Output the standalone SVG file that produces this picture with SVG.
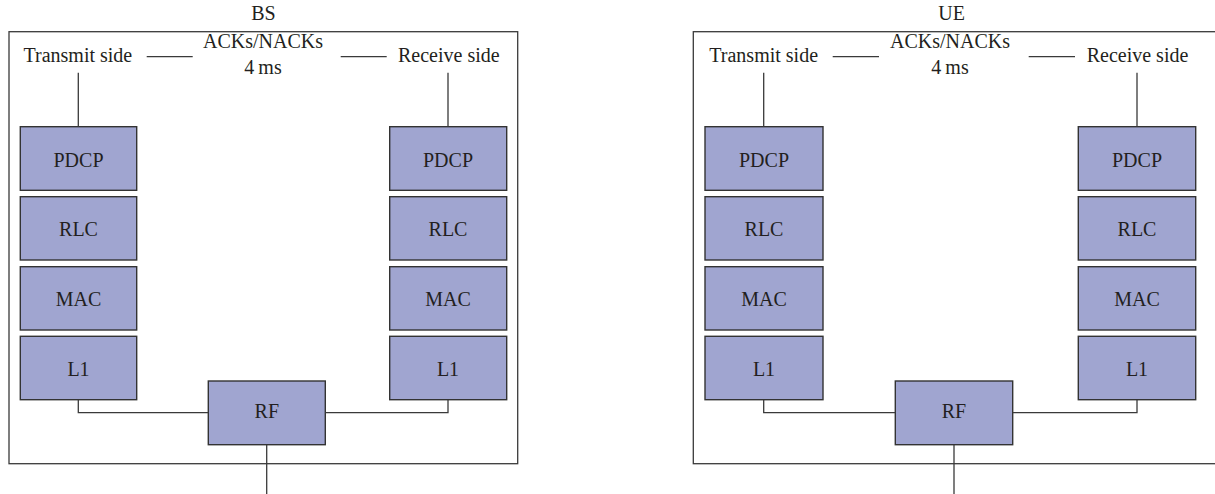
<svg xmlns="http://www.w3.org/2000/svg" width="1215" height="494" viewBox="0 0 1215 494" font-family="'Liberation Serif', 'Times New Roman', serif">
<style>
svg text{font-family:"Liberation Serif","Times New Roman",serif;font-size:20px;fill:#231f20;text-anchor:middle}
.box{fill:#a0a5d0;stroke:#333;stroke-width:1.4}
.frame{fill:none;stroke:#3a3a3a;stroke-width:1.3}
.ln{fill:none;stroke:#3a3a3a;stroke-width:1.3}
svg text.lt{text-anchor:start}
</style>
<rect width="1215" height="494" fill="#fff"/>
<g id="bs-frame">
<rect class="frame" x="9" y="31.7" width="508.7" height="432"/>
<text x="263.5" y="20">BS</text>
<text class="lt" x="23.5" y="62.3">Transmit side</text>
<text class="lt" x="398" y="62.3">Receive side</text>
<text x="263" y="48.3">ACKs/NACKs</text>
<text x="263" y="74">4&#8201;ms</text>
</g>
<g id="bs-tx-pdcp"><rect class="box" x="20.3" y="126.7" width="116.4" height="63.6"/><text font-family="Liberation Serif" x="78.5" y="166.5">PDCP</text></g>
<g id="bs-tx-rlc"><rect class="box" x="20.3" y="196.7" width="116.4" height="63.3"/><text font-family="Liberation Serif" x="78.5" y="236">RLC</text></g>
<g id="bs-tx-mac"><rect class="box" x="20.3" y="266.7" width="116.4" height="63.3"/><text font-family="Liberation Serif" x="78.5" y="306">MAC</text></g>
<g id="bs-tx-l1"><rect class="box" x="20.3" y="336.3" width="116.4" height="63.4"/><text font-family="Liberation Serif" x="78.5" y="376">L1</text></g>
<g id="bs-rx-pdcp"><rect class="box" x="389.7" y="126.7" width="117" height="63.6"/><text font-family="Liberation Serif" x="448" y="166.5">PDCP</text></g>
<g id="bs-rx-rlc"><rect class="box" x="389.7" y="196.7" width="117" height="63.3"/><text font-family="Liberation Serif" x="448" y="236">RLC</text></g>
<g id="bs-rx-mac"><rect class="box" x="389.7" y="266.7" width="117" height="63.3"/><text font-family="Liberation Serif" x="448" y="306">MAC</text></g>
<g id="bs-rx-l1"><rect class="box" x="389.7" y="336.3" width="117" height="63.4"/><text font-family="Liberation Serif" x="448" y="376">L1</text></g>
<g id="bs-rf"><rect class="box" x="208.3" y="381" width="117" height="63.7"/><text font-family="Liberation Serif" x="266.8" y="418">RF</text></g>
<g id="ue-frame">
<rect class="frame" x="693.3" y="31.7" width="540" height="432"/>
<text x="951.7" y="20">UE</text>
<text class="lt" x="709.3" y="62.3">Transmit side</text>
<text class="lt" x="1086.7" y="62.3">Receive side</text>
<text x="950" y="48.3">ACKs/NACKs</text>
<text x="950" y="74">4&#8201;ms</text>
</g>
<g id="ue-tx-pdcp"><rect class="box" x="705" y="126.7" width="118" height="63.6"/><text font-family="Liberation Serif" x="764" y="166.5">PDCP</text></g>
<g id="ue-tx-rlc"><rect class="box" x="705" y="196.7" width="118" height="63.3"/><text font-family="Liberation Serif" x="764" y="236">RLC</text></g>
<g id="ue-tx-mac"><rect class="box" x="705" y="266.7" width="118" height="63.3"/><text font-family="Liberation Serif" x="764" y="306">MAC</text></g>
<g id="ue-tx-l1"><rect class="box" x="705" y="336.3" width="118" height="63.4"/><text font-family="Liberation Serif" x="764" y="376">L1</text></g>
<g id="ue-rx-pdcp"><rect class="box" x="1078.3" y="126.7" width="117.4" height="63.6"/><text font-family="Liberation Serif" x="1137" y="166.5">PDCP</text></g>
<g id="ue-rx-rlc"><rect class="box" x="1078.3" y="196.7" width="117.4" height="63.3"/><text font-family="Liberation Serif" x="1137" y="236">RLC</text></g>
<g id="ue-rx-mac"><rect class="box" x="1078.3" y="266.7" width="117.4" height="63.3"/><text font-family="Liberation Serif" x="1137" y="306">MAC</text></g>
<g id="ue-rx-l1"><rect class="box" x="1078.3" y="336.3" width="117.4" height="63.4"/><text font-family="Liberation Serif" x="1137" y="376">L1</text></g>
<g id="ue-rf"><rect class="box" x="895.3" y="381" width="117.4" height="63.7"/><text font-family="Liberation Serif" x="954" y="418">RF</text></g>
<g id="connectors">
<path class="ln" d="M146.7 56.7H192.7M340.7 56.7H386.7"/>
<path class="ln" d="M78.3 72.7V126.7M448 72.7V126.7"/>
<path class="ln" d="M78.3 399.7V412.7H208.3M325.3 412.7H448V399.7"/>
<path class="ln" d="M266.7 444.7V494"/>
<path class="ln" d="M832.7 56.7H879M1028.7 56.7H1075"/>
<path class="ln" d="M763.7 72.7V126.7M1137 72.7V126.7"/>
<path class="ln" d="M763.7 399.7V412.7H895.3M1012.7 412.7H1137V399.7"/>
<path class="ln" d="M954 444.7V494"/>
</g>
</svg>
